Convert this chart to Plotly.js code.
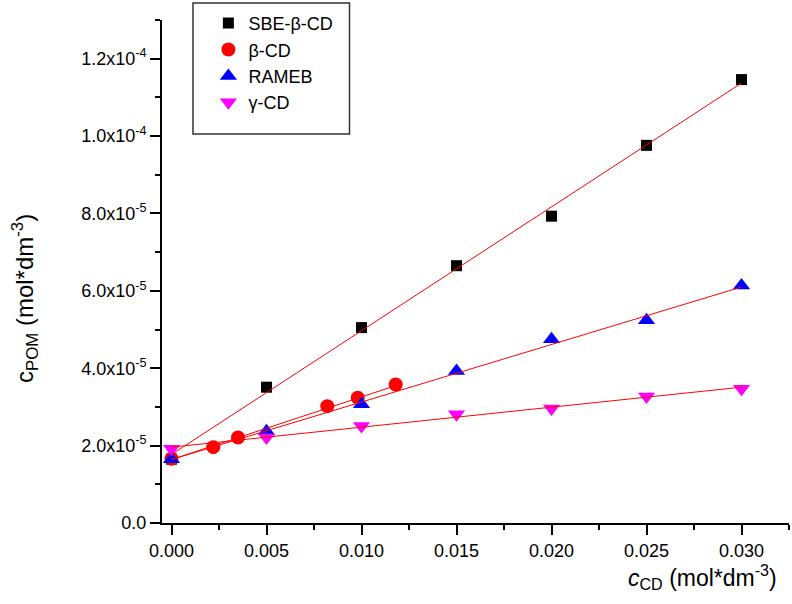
<!DOCTYPE html>
<html>
<head>
<meta charset="utf-8">
<script src="https://cdn.plot.ly/plotly-3.0.1.min.js"></script>
<style>html,body{margin:0;padding:0;background:#fff;}#chart{width:792px;height:604px;}</style>
</head>
<body>
<div id="chart"></div>
<script>
// Data
const seriesNames = ["SBE-\u03b2-CD", "\u03b2-CD", "RAMEB", "\u03b3-CD"];
const xSBE = [0.000, 0.005, 0.010, 0.015, 0.020, 0.025, 0.030];
const ySBE = [1.65e-5, 3.51e-5, 5.05e-5, 6.65e-5, 7.93e-5, 9.76e-5, 1.146e-4];
const xBeta = [0.000, 0.0022, 0.0035, 0.0082, 0.0098, 0.0118];
const yBeta = [1.66e-5, 1.96e-5, 2.21e-5, 3.02e-5, 3.24e-5, 3.58e-5];
const xRAMEB = [0.000, 0.005, 0.010, 0.015, 0.020, 0.025, 0.030];
const yRAMEB = [1.65e-5, 2.37e-5, 3.07e-5, 3.93e-5, 4.75e-5, 5.24e-5, 6.14e-5];
const xGamma = [0.000, 0.005, 0.010, 0.015, 0.020, 0.025, 0.030];
const yGamma = [1.92e-5, 2.21e-5, 2.51e-5, 2.81e-5, 2.96e-5, 3.27e-5, 3.47e-5];

// Linear fit lines (end points)
const fitXSBE = [0.000, 0.030];
const fitYSBE = [1.77e-5, 1.137e-4];
const fitXBeta = [0.000, 0.0118];
const fitYBeta = [1.64e-5, 3.55e-5];
const fitXRAMEB = [0.000, 0.030];
const fitYRAMEB = [1.64e-5, 6.10e-5];
const fitXGamma = [0.000, 0.030];
const fitYGamma = [1.96e-5, 3.51e-5];

// Tick labels
const yTickVals = [0, 2e-5, 4e-5, 6e-5, 8e-5, 1.0e-4, 1.2e-4];
const yTickText = ["0.0", "2.0x10<sup>-5</sup>", "4.0x10<sup>-5</sup>", "6.0x10<sup>-5</sup>",
                   "8.0x10<sup>-5</sup>", "1.0x10<sup>-4</sup>", "1.2x10<sup>-4</sup>"];
const yMinorVals = [1e-5, 3e-5, 5e-5, 7e-5, 9e-5, 1.1e-4, 1.3e-4];
const xTickVals = [0.000, 0.005, 0.010, 0.015, 0.020, 0.025, 0.030];
const xTickText = ["0.000", "0.005", "0.010", "0.015", "0.020", "0.025", "0.030"];
const xMinorVals = [0.0025, 0.0075, 0.0125, 0.0175, 0.0225, 0.0275, 0.0325];

const FONT = "Liberation Sans, Arial, sans-serif";

const traces = [
  {x: xSBE, y: ySBE, name: seriesNames[0], mode: "markers", type: "scatter",
   marker: {symbol: "square", size: 11, color: "#000000"}},
  {x: xBeta, y: yBeta, name: seriesNames[1], mode: "markers", type: "scatter",
   marker: {symbol: "circle", size: 14, color: "#ff0000"}},
  {x: xRAMEB, y: yRAMEB, name: seriesNames[2], mode: "markers", type: "scatter",
   marker: {symbol: "triangle-up", size: 15, color: "#0000ff"}},
  {x: xGamma, y: yGamma, name: seriesNames[3], mode: "markers", type: "scatter",
   marker: {symbol: "triangle-down", size: 15, color: "#ff00ff"}},
  {x: fitXSBE, y: fitYSBE, mode: "lines", showlegend: false, hoverinfo: "skip",
   line: {color: "#ff0000", width: 1}},
  {x: fitXBeta, y: fitYBeta, mode: "lines", showlegend: false, hoverinfo: "skip",
   line: {color: "#ff0000", width: 1}},
  {x: fitXRAMEB, y: fitYRAMEB, mode: "lines", showlegend: false, hoverinfo: "skip",
   line: {color: "#ff0000", width: 1}},
  {x: fitXGamma, y: fitYGamma, mode: "lines", showlegend: false, hoverinfo: "skip",
   line: {color: "#ff0000", width: 1}}
];

const layout = {
  width: 792, height: 604,
  margin: {l: 162, r: 3, t: 20, b: 81},
  paper_bgcolor: "#ffffff", plot_bgcolor: "#ffffff",
  font: {family: FONT, size: 18, color: "#000000"},
  showlegend: true,
  legend: {x: 0.074, y: 1.03, xanchor: "left", yanchor: "top",
           bgcolor: "rgba(0,0,0,0)", borderwidth: 0,
           font: {family: FONT, size: 18, color: "#000"}, tracegroupgap: 0, itemwidth: 30},
  xaxis: {
    range: [-0.0005, 0.0325], showgrid: false, zeroline: false,
    showline: true, linecolor: "#000", linewidth: 2, mirror: false,
    ticks: "outside", ticklen: 10, tickwidth: 2, tickcolor: "#000",
    tickmode: "array", tickvals: xTickVals, ticktext: xTickText,
    tickfont: {family: FONT, size: 18, color: "#000"},
    minor: {tickmode: "array", tickvals: xMinorVals, ticks: "outside", ticklen: 5, tickwidth: 2, tickcolor: "#000", showgrid: false},
    title: {text: ""}
  },
  yaxis: {
    range: [0, 1.3e-4], showgrid: false, zeroline: false,
    showline: true, linecolor: "#000", linewidth: 2, mirror: false,
    ticks: "outside", ticklen: 10, tickwidth: 2, tickcolor: "#000",
    tickmode: "array", tickvals: yTickVals, ticktext: yTickText,
    tickfont: {family: FONT, size: 18, color: "#000"},
    minor: {tickmode: "array", tickvals: yMinorVals, ticks: "outside", ticklen: 5, tickwidth: 2, tickcolor: "#000", showgrid: false},
    title: {text: ""}
  },
  shapes: [
    {type: "rect", xref: "paper", yref: "paper",
     x0: (193 - 162) / 627, x1: (349.5 - 162) / 627,
     y0: (523 - 134) / 503, y1: (523 - 3) / 503,
     line: {color: "#333333", width: 1.5}, fillcolor: "rgba(0,0,0,0)"}
  ],
  annotations: [
    {text: "c<sub>POM</sub> (mol*dm<sup>-3</sup>)", xref: "paper", yref: "paper",
     x: (25 - 162) / 627, y: (523 - 299) / 503, textangle: -90, showarrow: false,
     xanchor: "center", yanchor: "middle", font: {family: FONT, size: 24, color: "#000"}},
    {text: "<i>c</i><sub>CD</sub> (mol*dm<sup>-3</sup>)", xref: "paper", yref: "paper",
     x: (702 - 162) / 627, y: (523 - 577) / 503, showarrow: false,
     xanchor: "center", yanchor: "middle", font: {family: FONT, size: 23, color: "#000"}}
  ]
};

Plotly.newPlot("chart", traces, layout, {displayModeBar: false, staticPlot: true});
</script>
</body>
</html>
